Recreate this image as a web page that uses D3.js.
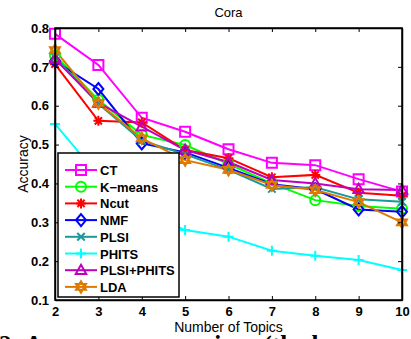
<!DOCTYPE html>
<html>
<head>
<meta charset="utf-8">
<script src="https://cdn.jsdelivr.net/npm/d3@7"></script>
<style>
  body { margin: 0; background: #fff; }
  svg text { font-family: Arial, "Liberation Sans", sans-serif; }
</style>
</head>
<body>
<figure id="chart" style="margin:0"></figure>
<script>
// data
const topics = [2, 3, 4, 5, 6, 7, 8, 9, 10];
const seriesNames = ["CT", "K\u2212means", "Ncut", "NMF", "PLSI", "PHITS", "PLSI+PHITS", "LDA"];
const ct        = [0.785, 0.705, 0.569, 0.533, 0.488, 0.453, 0.447, 0.411, 0.379];
const kmeans    = [0.730, 0.615, 0.525, 0.499, 0.450, 0.400, 0.357, 0.342, 0.335];
const ncut      = [0.707, 0.561, 0.557, 0.486, 0.465, 0.416, 0.422, 0.376, 0.368];
const nmf       = [0.715, 0.643, 0.503, 0.480, 0.440, 0.398, 0.385, 0.333, 0.327];
const plsi      = [0.725, 0.605, 0.510, 0.475, 0.435, 0.386, 0.390, 0.359, 0.353];
const phits     = [0.553, 0.420, 0.330, 0.280, 0.263, 0.227, 0.214, 0.203, 0.177];
const plsiPhits = [0.720, 0.607, 0.546, 0.486, 0.455, 0.409, 0.400, 0.385, 0.383];
const lda       = [0.743, 0.607, 0.516, 0.460, 0.435, 0.396, 0.383, 0.352, 0.300];
const yTicks = [0.1, 0.2, 0.3, 0.4, 0.5, 0.6, 0.7, 0.8];

const colors = ["#ff00ff", "#00ff00", "#ff0000", "#0000ff", "#1a9999", "#00ffff", "#bf00bf", "#df7a00"];
const shapes = ["square", "circle", "asterisk", "diamond", "cross", "plus", "triangle", "hexagram"];
const values = [ct, kmeans, ncut, nmf, plsi, phits, plsiPhits, lda];

const W = 411, H = 339;
const margin = { left: 55, right: 9, top: 28, bottom: 39 };
const width = W - margin.left - margin.right;
const height = H - margin.top - margin.bottom;

const svg = d3.select("figure#chart")
  .append("svg")
  .attr("width", W)
  .attr("height", H);

const g = svg.append("g")
  .attr("transform", "translate(" + margin.left + "," + margin.top + ")");

const x = d3.scaleLinear().domain([2, 10]).range([0, width]);
const y = d3.scaleLinear().domain([0.1, 0.8]).range([height, 0]);

// marker path generator, centred on 0,0
function markerPath(shape, r) {
  const p = d3.path();
  if (shape === "square") {
    p.rect(-r, -r, 2 * r, 2 * r);
  } else if (shape === "circle") {
    p.arc(0, 0, r, 0, 2 * Math.PI);
  } else if (shape === "diamond") {
    p.moveTo(0, -r * 1.2); p.lineTo(r, 0); p.lineTo(0, r * 1.2); p.lineTo(-r, 0); p.closePath();
  } else if (shape === "triangle") {
    p.moveTo(0, -r * 1.1); p.lineTo(r * 1.05, r * 0.75); p.lineTo(-r * 1.05, r * 0.75); p.closePath();
  } else if (shape === "plus") {
    p.moveTo(-r, 0); p.lineTo(r, 0); p.moveTo(0, -r); p.lineTo(0, r);
  } else if (shape === "cross") {
    const a = r * 0.75;
    p.moveTo(-a, -a); p.lineTo(a, a); p.moveTo(-a, a); p.lineTo(a, -a);
  } else if (shape === "asterisk") {
    p.moveTo(-r, 0); p.lineTo(r, 0); p.moveTo(0, -r); p.lineTo(0, r);
    const a = r * 0.72;
    p.moveTo(-a, -a); p.lineTo(a, a); p.moveTo(-a, a); p.lineTo(a, -a);
  } else if (shape === "hexagram") {
    const R = r * 1.15;
    for (let t = 0; t < 2; t++) {
      for (let i = 0; i < 3; i++) {
        const ang = -Math.PI / 2 + t * Math.PI + i * 2 * Math.PI / 3;
        const px = R * Math.cos(ang), py = R * Math.sin(ang);
        if (i === 0) p.moveTo(px, py); else p.lineTo(px, py);
      }
      p.closePath();
    }
  }
  return p.toString();
}

// lines and markers
const line = d3.line()
  .x((d, i) => x(topics[i]))
  .y(d => y(d));

values.forEach((vals, s) => {
  g.append("path")
    .attr("d", line(vals))
    .attr("fill", "none")
    .attr("stroke", colors[s])
    .attr("stroke-width", 2);
});
values.forEach((vals, s) => {
  g.selectAll(".m" + s)
    .data(vals)
    .enter()
    .append("path")
    .attr("transform", (d, i) => "translate(" + x(topics[i]) + "," + y(d) + ")")
    .attr("d", markerPath(shapes[s], 5))
    .attr("fill", "none")
    .attr("stroke", colors[s])
    .attr("stroke-width", 2);
});

// box and axes
g.append("rect")
  .attr("width", width)
  .attr("height", height)
  .attr("fill", "none")
  .attr("stroke", "#000")
  .attr("stroke-width", 1.5);

const xAxis = g.append("g")
  .attr("transform", "translate(0," + height + ")")
  .call(d3.axisBottom(x).tickValues(topics).tickFormat(d3.format("d")).tickSizeInner(-4).tickSizeOuter(0).tickPadding(7));
const yAxis = g.append("g")
  .call(d3.axisLeft(y).tickValues(yTicks).tickFormat(d3.format(".1f")).tickSizeInner(-4).tickSizeOuter(0).tickPadding(6));
g.append("g")
  .call(d3.axisTop(x).tickValues(topics).tickFormat("").tickSizeInner(-4).tickSizeOuter(0));
g.append("g")
  .attr("transform", "translate(" + width + ",0)")
  .call(d3.axisRight(y).tickValues(yTicks).tickFormat("").tickSizeInner(-4).tickSizeOuter(0));

g.selectAll(".domain").attr("stroke", "#000").attr("stroke-width", 1.5);
g.selectAll(".tick line").attr("stroke", "#000");
[xAxis, yAxis].forEach(a => a.selectAll("text")
  .style("font-size", "13px")
  .style("font-weight", "bold")
  .attr("fill", "#000")
  .style("font-family", "Arial, 'Liberation Sans', sans-serif"));

// legend
const lg = g.append("g").attr("transform", "translate(3,125)");
lg.append("rect")
  .attr("width", 121)
  .attr("height", 144)
  .attr("fill", "#fff")
  .attr("stroke", "#000")
  .attr("stroke-width", 1.5);
seriesNames.forEach((name, s) => {
  const ly = 17 + s * 16.7;
  lg.append("line")
    .attr("x1", 7).attr("x2", 39)
    .attr("y1", ly).attr("y2", ly)
    .attr("stroke", colors[s]).attr("stroke-width", 2);
  lg.append("path")
    .attr("transform", "translate(23," + ly + ")")
    .attr("d", markerPath(shapes[s], 5))
    .attr("fill", "none")
    .attr("stroke", colors[s]).attr("stroke-width", 2);
  lg.append("text")
    .attr("x", 42).attr("y", ly + 5)
    .style("font-size", "13px")
    .style("font-weight", "bold")
    .text(name);
});

// titles
svg.append("text")
  .attr("x", margin.left + width / 2).attr("y", 17)
  .attr("text-anchor", "middle")
  .style("font-size", "13px")
  .text("Cora");
svg.append("text")
  .attr("x", margin.left + width / 2).attr("y", 332)
  .attr("text-anchor", "middle")
  .style("font-size", "14px")
  .text("Number of Topics");
svg.append("text")
  .attr("transform", "translate(28," + (margin.top + height / 2) + ") rotate(-90)")
  .attr("text-anchor", "middle")
  .style("font-size", "14px")
  .text("Accuracy");

// cut-off caption below the figure
svg.append("text")
  .attr("x", -1).attr("y", 353)
  .style("font-family", "'Liberation Serif', serif")
  .style("font-weight", "bold")
  .style("font-size", "25px")
  .text("2: Accuracy comparison (the l");
</script>
</body>
</html>
